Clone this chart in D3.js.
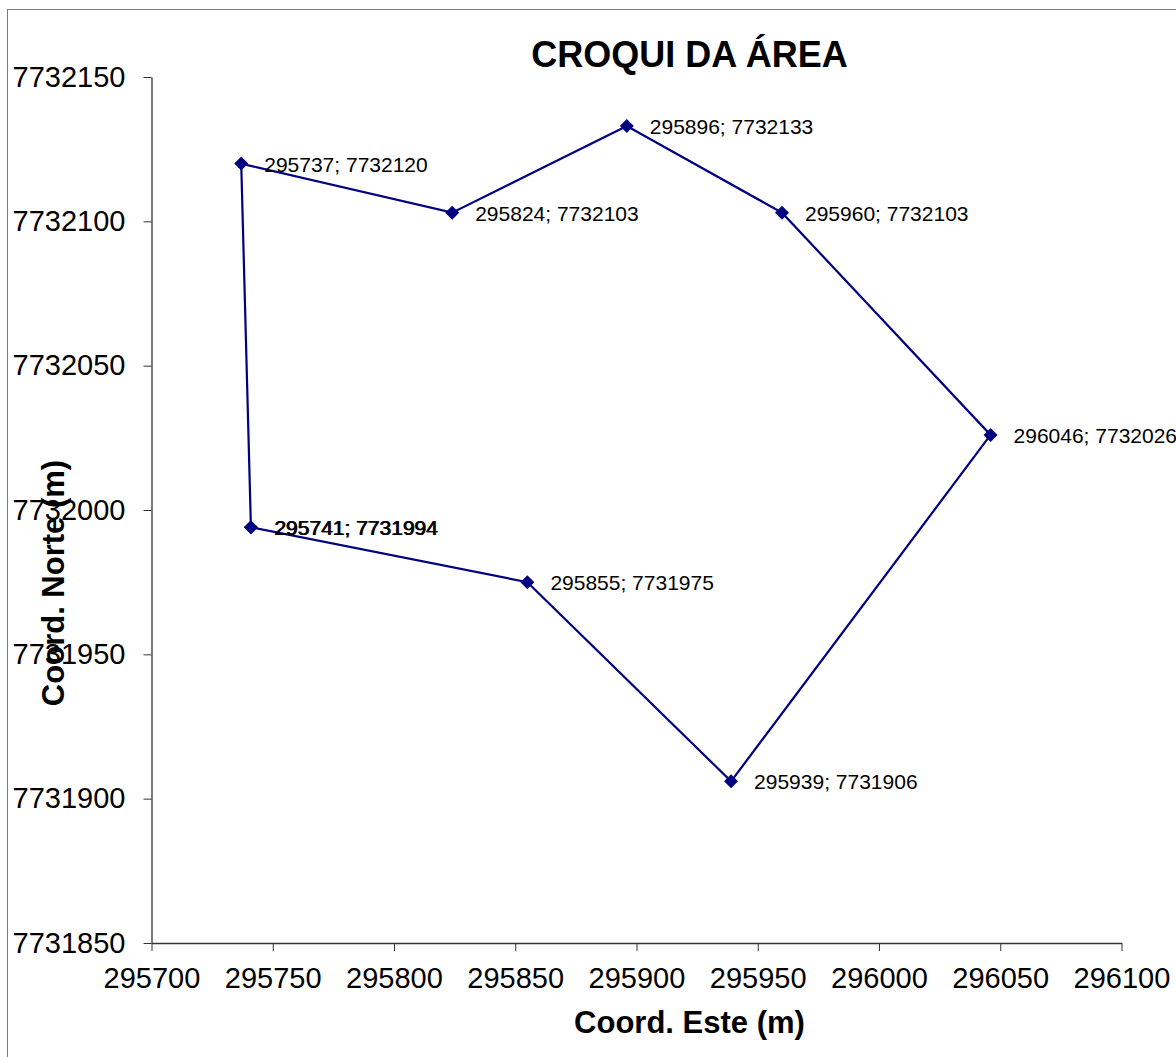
<!DOCTYPE html>
<html>
<head>
<meta charset="utf-8">
<script src="https://cdn.jsdelivr.net/npm/d3@7"></script>
<style>
  body { margin: 0; background: #fff; }
  svg { display: block; font-family: "Liberation Sans", Arial, sans-serif; }
</style>
</head>
<body>
<div id="chart"></div>
<script>
// polygon vertices in survey order (closed: last point repeats the first)
const este = [295741, 295737, 295824, 295896, 295960, 296046, 295939, 295855, 295741];
const norte = [7731994, 7732120, 7732103, 7732133, 7732103, 7732026, 7731906, 7731975, 7731994];
const xTicks = [295700, 295750, 295800, 295850, 295900, 295950, 296000, 296050, 296100];
const yTicks = [7731850, 7731900, 7731950, 7732000, 7732050, 7732100, 7732150];

const width = 1176;
const height = 1057;
const margin = { top: 77, right: 54.5, bottom: 114, left: 151.5 };
const plotW = width - margin.left - margin.right;
const plotH = height - margin.top - margin.bottom;

const points = este.map((e, i) => ({ x: e, y: norte[i], i: i }));

const svg = d3.select('#chart').append('svg')
  .attr('width', width)
  .attr('height', height);

// chart frame
svg.append('rect')
  .attr('x', 7.5)
  .attr('y', 9.5)
  .attr('width', width + 20)
  .attr('height', height + 20)
  .attr('fill', 'none')
  .attr('stroke', '#7a7a7a')
  .attr('stroke-width', 1);

const g = svg.append('g')
  .attr('transform', 'translate(' + margin.left + ',' + margin.top + ')');

const xScale = d3.scaleLinear()
  .domain([295700, 296100])
  .range([0, plotW]);

const yScale = d3.scaleLinear()
  .domain([7731850, 7732150])
  .range([plotH, 0]);

// X axis
const xAxis = d3.axisBottom(xScale)
  .tickValues(xTicks)
  .tickFormat(d3.format('d'))
  .tickSize(8)
  .tickSizeOuter(0)
  .tickPadding(16);
const gx = g.append('g')
  .attr('transform', 'translate(0,' + plotH + ')')
  .call(xAxis);
gx.select('.domain').attr('stroke', '#333').attr('stroke-width', 1.3);
gx.selectAll('.tick line').attr('stroke', '#333');
gx.selectAll('text')
  .attr('fill', '#000')
  .style('font-size', '29px')
  .style('font-family', '"Liberation Sans", Arial, sans-serif');

// Y axis
const yAxis = d3.axisLeft(yScale)
  .tickValues(yTicks)
  .tickFormat(d3.format('d'))
  .tickSize(8)
  .tickSizeOuter(0)
  .tickPadding(18);
const gy = g.append('g')
  .call(yAxis);
gy.select('.domain').attr('stroke', '#333').attr('stroke-width', 1.3);
gy.selectAll('.tick line').attr('stroke', '#333');
gy.selectAll('text')
  .attr('fill', '#000')
  .style('font-size', '29px')
  .style('font-family', '"Liberation Sans", Arial, sans-serif');

// polygon line
const line = d3.line()
  .x(d => xScale(d.x))
  .y(d => yScale(d.y));

g.append('path')
  .datum(points)
  .attr('fill', 'none')
  .attr('stroke', '#000080')
  .attr('stroke-width', 2.2)
  .attr('d', line);

// diamond markers
g.selectAll('.marker')
  .data(points)
  .enter().append('path')
  .attr('class', 'marker')
  .attr('transform', d => 'translate(' + xScale(d.x) + ',' + yScale(d.y) + ')')
  .attr('d', d3.symbol().type(d3.symbolDiamond2).size(125))
  .attr('fill', '#000080');

// data labels (the repeated closing point gets printed twice)
g.selectAll('.label')
  .data(points)
  .enter().append('text')
  .attr('class', 'label')
  .attr('x', d => xScale(d.x) + 23 + (d.i === points.length - 1 ? 1 : 0))
  .attr('y', d => yScale(d.y) + 8)
  .style('font-size', '21px')
  .attr('fill', '#000')
  .text(d => d.x + '; ' + d.y);

// title
svg.append('text')
  .attr('x', 689.5)
  .attr('y', 67)
  .attr('text-anchor', 'middle')
  .style('font-size', '36px')
  .style('font-weight', 'bold')
  .text('CROQUI DA ÁREA');

// X axis label
svg.append('text')
  .attr('x', 689.5)
  .attr('y', 1033)
  .attr('text-anchor', 'middle')
  .style('font-size', '31px')
  .style('font-weight', 'bold')
  .text('Coord. Este (m)');

// Y axis label
svg.append('text')
  .attr('transform', 'translate(64,583) rotate(-90)')
  .attr('text-anchor', 'middle')
  .style('font-size', '31px')
  .style('font-weight', 'bold')
  .text('Coord. Norte (m)');
</script>
</body>
</html>
